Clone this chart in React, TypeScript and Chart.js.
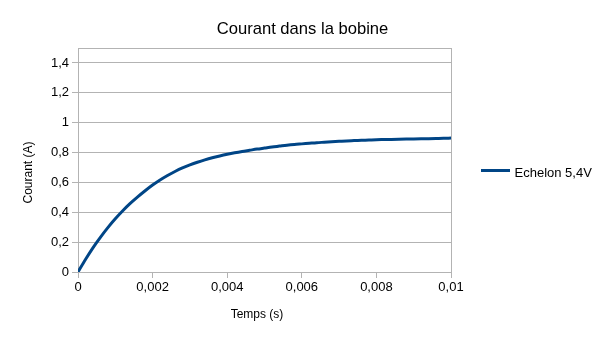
import React, { useEffect, useRef } from "react";
import { Chart, registerables } from "chart.js";

Chart.register(...registerables);

// Time in seconds
const timeS: number[] = [
  0, 0.0002, 0.0004, 0.0006, 0.0008, 0.001, 0.0012, 0.0014, 0.0016, 0.0018,
  0.002, 0.0022, 0.0024, 0.0026, 0.0028, 0.003, 0.0032, 0.0034, 0.0036, 0.0038,
  0.004, 0.0042, 0.0044, 0.0046, 0.0048, 0.005, 0.0052, 0.0054, 0.0056, 0.0058,
  0.006, 0.0062, 0.0064, 0.0066, 0.0068, 0.007, 0.0072, 0.0074, 0.0076, 0.0078,
  0.008, 0.0082, 0.0084, 0.0086, 0.0088, 0.009, 0.0092, 0.0094, 0.0096, 0.0098,
  0.01,
];

// Current in A (Echelon 5,4V)
const courantA: number[] = [
  0.0, 0.084, 0.162, 0.232, 0.297, 0.356, 0.41, 0.459, 0.503, 0.544,
  0.582, 0.616, 0.646, 0.673, 0.697, 0.717, 0.735, 0.751, 0.765, 0.777,
  0.788, 0.798, 0.807, 0.815, 0.823, 0.83, 0.837, 0.843, 0.849, 0.854,
  0.858, 0.862, 0.866, 0.869, 0.872, 0.875, 0.878, 0.88, 0.882, 0.884,
  0.886, 0.887, 0.888, 0.889, 0.89, 0.891, 0.892, 0.893, 0.894, 0.895,
  0.897,
];

const xTickValues: number[] = [0, 0.002, 0.004, 0.006, 0.008, 0.01];
const xTickLabels: string[] = ["0", "0,002", "0,004", "0,006", "0,008", "0,01"];
const yTickValues: number[] = [0, 0.2, 0.4, 0.6, 0.8, 1, 1.2, 1.4];
const yTickLabels: string[] = ["0", "0,2", "0,4", "0,6", "0,8", "1", "1,2", "1,4"];

const chartTitle = "Courant dans la bobine";
const xAxisTitle = "Temps (s)";
const yAxisTitle = "Courant (A)";
const seriesName = "Echelon 5,4V";

const LINE_COLOR = "#004586";
const GRID_COLOR = "#b3b3b3";
const FONT = "'Liberation Sans', Arial, sans-serif";

const labelFor = (values: number[], labels: string[], v: number) => {
  const i = values.findIndex((x) => Math.abs(x - v) < 1e-9);
  return i >= 0 ? labels[i] : "";
};

const decorPlugin = {
  id: "decor",
  afterDraw(chart: any) {
    const { ctx, chartArea } = chart;
    const { left, right, top, bottom } = chartArea;
    ctx.save();
    // frame: top and right edges
    ctx.strokeStyle = GRID_COLOR;
    ctx.lineWidth = 1;
    ctx.beginPath();
    ctx.moveTo(Math.round(left), Math.round(top) + 0.5);
    ctx.lineTo(Math.round(right) + 1, Math.round(top) + 0.5);
    ctx.moveTo(Math.round(right) + 0.5, Math.round(top));
    ctx.lineTo(Math.round(right) + 0.5, Math.round(bottom));
    ctx.stroke();

    ctx.fillStyle = "#000";
    // title
    ctx.font = `16.6px ${FONT}`;
    ctx.textAlign = "center";
    ctx.textBaseline = "alphabetic";
    ctx.fillText(chartTitle, 302.5, 34);

    // x axis title
    ctx.font = `12px ${FONT}`;
    ctx.fillText(xAxisTitle, 257, 318);

    // y axis title
    ctx.save();
    ctx.translate(31.5, 172.5);
    ctx.rotate(-Math.PI / 2);
    ctx.fillText(yAxisTitle, 0, 0);
    ctx.restore();

    // legend
    ctx.strokeStyle = LINE_COLOR;
    ctx.lineWidth = 3;
    ctx.beginPath();
    ctx.moveTo(481, 170.5);
    ctx.lineTo(510, 170.5);
    ctx.stroke();
    ctx.font = `13px ${FONT}`;
    ctx.textAlign = "left";
    ctx.fillText(seriesName, 514.5, 176.5);
    ctx.restore();
  },
};

export default function App() {
  const canvasRef = useRef<HTMLCanvasElement | null>(null);

  useEffect(() => {
    if (!canvasRef.current) return;
    const chart = new Chart(canvasRef.current, {
      type: "line",
      data: {
        datasets: [
          {
            label: seriesName,
            data: timeS.map((t, i) => ({ x: t, y: courantA[i] })),
            borderColor: LINE_COLOR,
            backgroundColor: LINE_COLOR,
            borderWidth: 3,
            pointRadius: 0,
            cubicInterpolationMode: "monotone",
            fill: false,
          },
        ],
      },
      options: {
        responsive: false,
        animation: false,
        layout: { padding: { top: 48, right: 154, left: 0, bottom: 0 } },
        plugins: {
          legend: { display: false },
          title: { display: false },
          tooltip: { enabled: false },
        },
        scales: {
          x: {
            type: "linear",
            min: 0,
            max: 0.01,
            afterBuildTicks: (scale: any) => {
              scale.ticks = xTickValues.map((v) => ({ value: v }));
            },
            afterFit: (scale: any) => {
              scale.height = 68;
            },
            ticks: {
              color: "#000",
              font: { family: FONT, size: 13 },
              padding: 2,
              maxRotation: 0,
              autoSkip: false,
              callback: (v: any) => labelFor(xTickValues, xTickLabels, Number(v)),
            },
            grid: {
              drawOnChartArea: false,
              drawTicks: true,
              tickLength: 6,
              color: GRID_COLOR,
            },
            border: { display: true, color: GRID_COLOR },
          },
          y: {
            type: "linear",
            min: 0,
            max: 1.5,
            afterBuildTicks: (scale: any) => {
              scale.ticks = yTickValues.map((v) => ({ value: v }));
            },
            afterFit: (scale: any) => {
              scale.width = 78;
            },
            ticks: {
              color: "#000",
              font: { family: FONT, size: 13 },
              padding: 3,
              autoSkip: false,
              callback: (v: any) => labelFor(yTickValues, yTickLabels, Number(v)),
            },
            grid: {
              drawOnChartArea: true,
              drawTicks: true,
              tickLength: 6,
              color: GRID_COLOR,
            },
            border: { display: true, color: GRID_COLOR },
          },
        },
      },
      plugins: [decorPlugin],
    } as any);
    return () => chart.destroy();
  }, []);

  return (
    <div style={{ position: "fixed", left: 0, top: 0, width: 605, height: 340, background: "#fff" }}>
      <canvas ref={canvasRef} width={605} height={340} style={{ display: "block" }} />
    </div>
  );
}
